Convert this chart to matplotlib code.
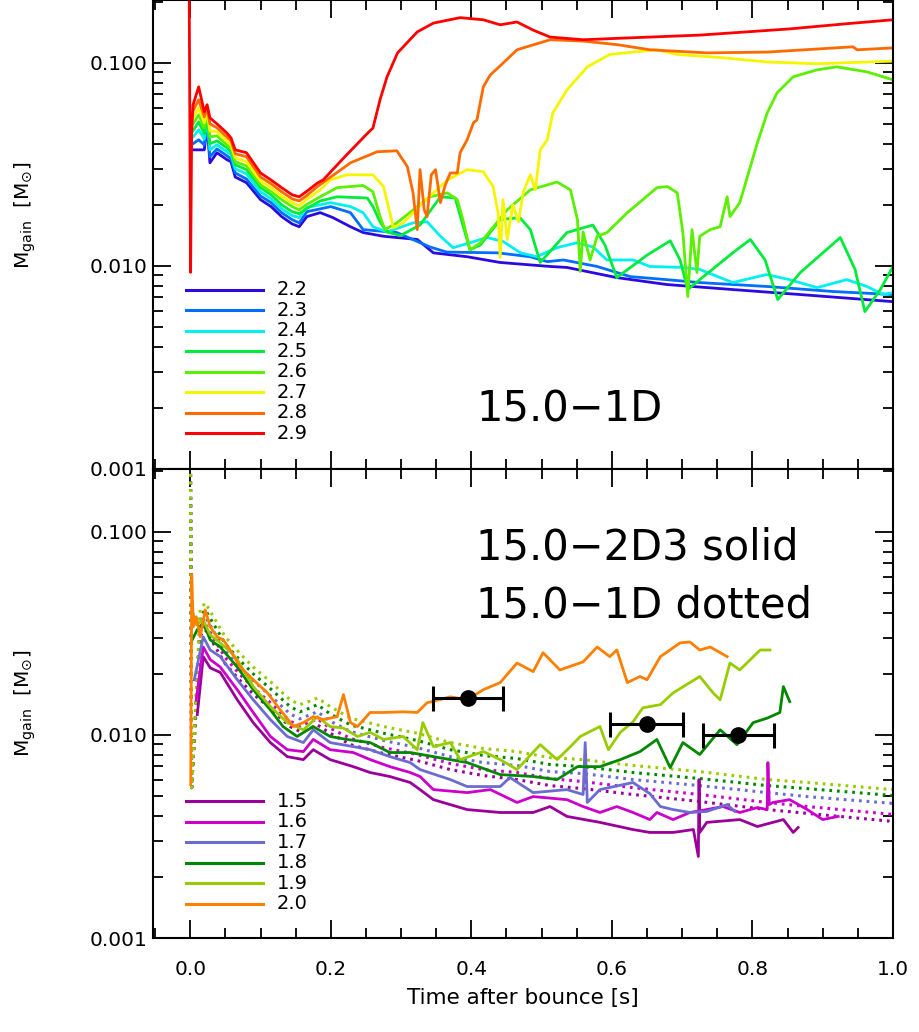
import numpy as np
import matplotlib
matplotlib.use("Agg")
import matplotlib.pyplot as plt
from matplotlib.ticker import LogLocator, MultipleLocator, FixedLocator, FixedFormatter, NullFormatter, FormatStrFormatter

# ---------------- top panel data (15.0-1D) ----------------
top_labels = ["2.2", "2.3", "2.4", "2.5", "2.6", "2.7", "2.8", "2.9"]
top_colors = ["#2a0ae0", "#006eff", "#00f0f0", "#00eb3c", "#5af000", "#f5f500", "#ff6a00", "#ff0000"]

t_early = [0.004, 0.012, 0.02, 0.024, 0.028, 0.038, 0.052, 0.058, 0.064, 0.08, 0.1, 0.115, 0.13, 0.145, 0.155]
m22_early = [0.0373, 0.0373, 0.0373, 0.0496, 0.0322, 0.0361, 0.0334, 0.0326, 0.0274, 0.0257, 0.0212, 0.0196, 0.0175, 0.0161, 0.0156]
m23_early = [0.0400, 0.0418, 0.0395, 0.0512, 0.0345, 0.0377, 0.0349, 0.0337, 0.0287, 0.0268, 0.0221, 0.0205, 0.0183, 0.0169, 0.0163]
m24_early = [0.0432, 0.0468, 0.0422, 0.0530, 0.0373, 0.0395, 0.0365, 0.0353, 0.0301, 0.0284, 0.0232, 0.0214, 0.0191, 0.0177, 0.0173]
m25_early = [0.0463, 0.0512, 0.0447, 0.0548, 0.0400, 0.0413, 0.0382, 0.0365, 0.0315, 0.0298, 0.0243, 0.0224, 0.0200, 0.0185, 0.0181]
m26_early = [0.0501, 0.0555, 0.0479, 0.0561, 0.0432, 0.0437, 0.0395, 0.0382, 0.0326, 0.0311, 0.0251, 0.0232, 0.0212, 0.0196, 0.0189]
m27_early = [0.0536, 0.0601, 0.0507, 0.0581, 0.0463, 0.0458, 0.0413, 0.0395, 0.0341, 0.0326, 0.0262, 0.0243, 0.0221, 0.0205, 0.0198]
m28_early = [0.0581, 0.0658, 0.0542, 0.0601, 0.0501, 0.0479, 0.0432, 0.0413, 0.0357, 0.0345, 0.0274, 0.0254, 0.0232, 0.0214, 0.0209]
m29_early = [0.0622, 0.0762, 0.0574, 0.0622, 0.0536, 0.0501, 0.0452, 0.0427, 0.0373, 0.0361, 0.0287, 0.0265, 0.0243, 0.0224, 0.0219]

t29_spike = [-0.002, 0.0005, 0.002]
m29_spike = [0.5, 0.0093, 0.045]

t22 = [0.166, 0.185, 0.203, 0.228, 0.246, 0.275, 0.323, 0.346, 0.394, 0.441, 0.512, 0.536, 0.607, 0.678, 0.772, 0.868, 1.0]
m22 = [0.0175, 0.0183, 0.0173, 0.0156, 0.0146, 0.0140, 0.0135, 0.0116, 0.0111, 0.0104, 0.00994, 0.00983, 0.00876, 0.00810, 0.00765, 0.00723, 0.00667]

t23 = [0.166, 0.2, 0.228, 0.246, 0.294, 0.341, 0.365, 0.437, 0.484, 0.508, 0.531, 0.579, 0.626, 0.678, 0.725, 0.821, 0.915, 1.0]
m23 = [0.0185, 0.0196, 0.0183, 0.0151, 0.0146, 0.0124, 0.0117, 0.0116, 0.0111, 0.0105, 0.0107, 0.00994, 0.00886, 0.00856, 0.00828, 0.00792, 0.00748, 0.00723]

t24 = [0.166, 0.2, 0.228, 0.246, 0.26, 0.280, 0.317, 0.337, 0.356, 0.374, 0.398, 0.422, 0.445, 0.47, 0.493, 0.522, 0.55, 0.573, 0.593, 0.63,
       0.654, 0.701, 0.725, 0.772, 0.82, 0.853, 0.892, 0.934, 0.963, 0.986, 1.0]
m24 = [0.0194, 0.0205, 0.0196, 0.0183, 0.0156, 0.0147, 0.0163, 0.0165, 0.0140, 0.0123, 0.0130, 0.0138, 0.0132, 0.0116, 0.0111, 0.0123, 0.0130, 0.0124, 0.0107, 0.0107,
       0.00994, 0.00983, 0.00961, 0.00828, 0.00907, 0.00856, 0.00782, 0.00856, 0.00792, 0.00723, 0.00739]

t25 = [0.165, 0.185, 0.209, 0.252, 0.260, 0.270, 0.280, 0.299, 0.327, 0.356, 0.377, 0.388, 0.398, 0.413, 0.441, 0.469, 0.484, 0.498, 0.536, 0.573,
       0.590, 0.607, 0.650, 0.683, 0.697, 0.708, 0.725, 0.772, 0.797, 0.818, 0.836, 0.868, 0.925, 0.946, 0.960, 0.982, 1.0]
m25 = [0.0191, 0.0209, 0.0219, 0.0216, 0.0196, 0.0165, 0.0147, 0.0141, 0.0159, 0.0219, 0.0216, 0.0159, 0.0120, 0.0127, 0.0169, 0.0173, 0.0151, 0.0104, 0.0146, 0.0159,
       0.0127, 0.00876, 0.0113, 0.0133, 0.0107, 0.00765, 0.00856, 0.0116, 0.0135, 0.0107, 0.00683, 0.00927, 0.0138, 0.00961, 0.00596, 0.00765, 0.00994]

t26 = [0.165, 0.185, 0.209, 0.246, 0.260, 0.270, 0.277, 0.294, 0.341, 0.366, 0.380, 0.388, 0.398, 0.413, 0.451, 0.484, 0.522, 0.541, 0.551, 0.555,
       0.559, 0.569, 0.579, 0.593, 0.622, 0.644, 0.664, 0.679, 0.693, 0.701, 0.708, 0.714, 0.721, 0.725, 0.740, 0.754, 0.764, 0.768, 0.782, 0.797,
       0.807, 0.821, 0.835, 0.858, 0.892, 0.920, 0.963, 1.0]
m26 = [0.0200, 0.0219, 0.0243, 0.0249, 0.0232, 0.0175, 0.0151, 0.0163, 0.0219, 0.0229, 0.0212, 0.0169, 0.0120, 0.0130, 0.0189, 0.0237, 0.0259, 0.0237, 0.0169, 0.00939,
       0.0147, 0.0107, 0.0140, 0.0146, 0.0183, 0.0212, 0.0243, 0.0246, 0.0229, 0.0146, 0.00707, 0.0151, 0.00927, 0.0140, 0.0151, 0.0156, 0.0219, 0.0175, 0.0205, 0.0308,
       0.0404, 0.0567, 0.0712, 0.0854, 0.0924, 0.0956, 0.0903, 0.0825]

t27 = [0.165, 0.185, 0.199, 0.223, 0.260, 0.275, 0.284, 0.289, 0.303, 0.331, 0.366, 0.394, 0.417, 0.431, 0.438, 0.441, 0.445, 0.451, 0.459, 0.467,
       0.474, 0.484, 0.491, 0.498, 0.508, 0.516, 0.536, 0.565, 0.597, 0.630, 0.664, 0.693, 0.725, 0.758, 0.821, 0.892, 1.0]
m27 = [0.0212, 0.0237, 0.0265, 0.0281, 0.0281, 0.0246, 0.0183, 0.0154, 0.0163, 0.0205, 0.0265, 0.0298, 0.0291, 0.0246, 0.0183, 0.0110, 0.0212, 0.0135, 0.0200, 0.0165,
       0.0232, 0.0281, 0.0237, 0.0373, 0.0418, 0.0567, 0.0736, 0.0956, 0.110, 0.113, 0.116, 0.110, 0.108, 0.106, 0.101, 0.099, 0.102]

t28 = [0.165, 0.181, 0.228, 0.266, 0.294, 0.309, 0.317, 0.323, 0.327, 0.333, 0.337, 0.343, 0.349, 0.356, 0.363, 0.370, 0.380, 0.384, 0.394, 0.403,
       0.408, 0.417, 0.427, 0.441, 0.465, 0.512, 0.559, 0.607, 0.654, 0.735, 0.821, 0.943, 0.949, 1.0]
m28 = [0.0221, 0.0246, 0.0322, 0.0365, 0.0369, 0.0308, 0.0229, 0.0151, 0.0298, 0.0189, 0.0175, 0.0281, 0.0298, 0.0205, 0.0251, 0.0287, 0.0287, 0.0361, 0.0418, 0.0507,
       0.0524, 0.0762, 0.0873, 0.0967, 0.116, 0.130, 0.128, 0.123, 0.116, 0.112, 0.113, 0.120, 0.116, 0.1185]

t29 = [0.165, 0.181, 0.189, 0.2, 0.22, 0.25, 0.26, 0.27, 0.28, 0.295, 0.323, 0.346, 0.384, 0.417, 0.441, 0.465, 0.488, 0.512, 0.559, 0.63,
       0.725, 0.853, 0.935, 1.0]
m29 = [0.0232, 0.0256, 0.0265, 0.0291, 0.0345, 0.0442, 0.0478, 0.0657, 0.0853, 0.112, 0.142, 0.157, 0.167, 0.163, 0.154, 0.159, 0.145, 0.134, 0.130, 0.133,
       0.137, 0.147, 0.156, 0.163]

# ---------------- bottom panel data (15.0-2D3 solid, 15.0-1D dotted) ----------------
bot_labels = ["1.5", "1.6", "1.7", "1.8", "1.9", "2.0"]
bot_colors = ["#990099", "#cc00cc", "#6b6bd0", "#008800", "#99cc00", "#ff7f00"]

s15_t = [0.010, 0.0185, 0.0284, 0.0427, 0.0669, 0.0896, 0.114, 0.138, 0.161, 0.175, 0.199, 0.232, 0.256, 0.284, 0.313, 0.327, 0.346, 0.394, 0.441, 0.488,
         0.512, 0.536, 0.583, 0.630, 0.654, 0.687, 0.716, 0.723, 0.724, 0.725, 0.735, 0.782, 0.807, 0.844, 0.858, 0.865]
s15_m = [0.0126, 0.0243, 0.0214, 0.0203, 0.0149, 0.0115, 0.00917, 0.00782, 0.00756, 0.00846, 0.00756, 0.00698, 0.00653, 0.00624, 0.00583, 0.00538, 0.00480, 0.00429, 0.00415, 0.00415,
         0.00444, 0.00397, 0.00371, 0.00342, 0.00331, 0.00331, 0.00342, 0.00252, 0.00603, 0.00331, 0.00371, 0.00383, 0.00354, 0.00383, 0.00331, 0.00350]

s16_t = [0.0085, 0.0185, 0.0284, 0.0427, 0.0669, 0.0896, 0.114, 0.138, 0.161, 0.175, 0.199, 0.232, 0.256, 0.284, 0.313, 0.327, 0.346, 0.394, 0.427, 0.465,
         0.488, 0.536, 0.559, 0.583, 0.607, 0.630, 0.654, 0.664, 0.687, 0.711, 0.735, 0.758, 0.782, 0.807, 0.821, 0.822, 0.824, 0.829, 0.853, 0.878,
         0.900, 0.922]
s16_m = [0.0149, 0.0271, 0.0235, 0.0216, 0.0167, 0.0129, 0.00983, 0.00846, 0.00828, 0.00950, 0.00846, 0.00819, 0.00756, 0.00698, 0.00653, 0.00624, 0.00538, 0.00520, 0.00538, 0.00465,
         0.00497, 0.00480, 0.00444, 0.00415, 0.00444, 0.00415, 0.00383, 0.00415, 0.00383, 0.00415, 0.00429, 0.00444, 0.00415, 0.00439, 0.00429, 0.00731, 0.00454, 0.00465, 0.00480, 0.00429,
         0.00383, 0.00397]

s17_t = [0.0057, 0.0185, 0.0284, 0.0427, 0.0669, 0.0896, 0.114, 0.138, 0.161, 0.175, 0.199, 0.232, 0.256, 0.284, 0.313, 0.327, 0.370, 0.394, 0.441, 0.455,
         0.488, 0.536, 0.559, 0.562, 0.565, 0.583, 0.630, 0.654, 0.669, 0.687, 0.711, 0.735, 0.764, 0.775]
s17_m = [0.0187, 0.0304, 0.0262, 0.0243, 0.0187, 0.0149, 0.0119, 0.00983, 0.00917, 0.0106, 0.00917, 0.00876, 0.00846, 0.00782, 0.00731, 0.00675, 0.00603, 0.00557, 0.00557, 0.00617,
         0.00520, 0.00538, 0.00509, 0.00917, 0.00465, 0.00538, 0.00583, 0.00514, 0.00444, 0.00429, 0.00415, 0.00420, 0.00454, 0.00420]

s18_t = [0.0028, 0.010, 0.0185, 0.0284, 0.0427, 0.0669, 0.0896, 0.114, 0.132, 0.152, 0.175, 0.199, 0.223, 0.256, 0.284, 0.313, 0.346, 0.394, 0.441, 0.488,
         0.522, 0.551, 0.583, 0.612, 0.640, 0.664, 0.683, 0.701, 0.725, 0.754, 0.778, 0.801, 0.821, 0.839, 0.844, 0.853]
s18_m = [0.0294, 0.0330, 0.0357, 0.0294, 0.0271, 0.0216, 0.0167, 0.0133, 0.0110, 0.00983, 0.0110, 0.00983, 0.00950, 0.00917, 0.00819, 0.00819, 0.00782, 0.00731, 0.00638, 0.00624,
         0.00603, 0.00698, 0.00698, 0.00756, 0.00828, 0.00950, 0.00690, 0.00917, 0.00801, 0.0106, 0.00896, 0.0115, 0.0121, 0.0129, 0.0173, 0.0146]

s19_t = [0.0028, 0.0085, 0.0185, 0.0284, 0.0427, 0.0569, 0.0669, 0.0896, 0.114, 0.138, 0.161, 0.181, 0.199, 0.218, 0.238, 0.256, 0.275, 0.303, 0.323, 0.331,
         0.346, 0.370, 0.384, 0.417, 0.441, 0.465, 0.498, 0.522, 0.541, 0.555, 0.583, 0.595, 0.612, 0.630, 0.644, 0.669, 0.687, 0.725, 0.744, 0.754,
         0.768, 0.782, 0.811, 0.825]
s19_m = [0.0413, 0.0349, 0.0369, 0.0311, 0.0284, 0.0257, 0.0235, 0.0173, 0.0138, 0.0115, 0.0106, 0.0123, 0.0110, 0.0108, 0.00983, 0.0103, 0.00950, 0.00983, 0.00846, 0.0115,
         0.00876, 0.00917, 0.00756, 0.00828, 0.00756, 0.00675, 0.00896, 0.00756, 0.00876, 0.00983, 0.0110, 0.00846, 0.0103, 0.0116, 0.0136, 0.0141, 0.0161, 0.0194, 0.0161, 0.0149,
         0.0226, 0.0209, 0.0262, 0.0262]

s20_t = [0.0007, 0.0021, 0.0043, 0.0085, 0.0142, 0.0213, 0.0284, 0.0384, 0.0469, 0.0569, 0.0711, 0.0896, 0.110, 0.128, 0.147, 0.161, 0.175, 0.189, 0.209, 0.218,
         0.228, 0.238, 0.256, 0.275, 0.303, 0.323, 0.337, 0.370, 0.394, 0.417, 0.441, 0.465, 0.488, 0.502, 0.526, 0.559, 0.579, 0.597, 0.607, 0.622,
         0.640, 0.650, 0.669, 0.697, 0.711, 0.725, 0.740, 0.764]
s20_m = [0.00570, 0.0615, 0.0341, 0.0382, 0.0304, 0.0413, 0.0341, 0.0304, 0.0294, 0.0262, 0.0216, 0.0187, 0.0161, 0.0133, 0.0110, 0.0115, 0.0123, 0.0119, 0.0123, 0.0158,
         0.0115, 0.0110, 0.0129, 0.0129, 0.0130, 0.0129, 0.0144, 0.0154, 0.0149, 0.0167, 0.0181, 0.0226, 0.0205, 0.0254, 0.0209, 0.0229, 0.0271, 0.0243, 0.0262, 0.0181,
         0.0194, 0.0187, 0.0243, 0.0284, 0.0287, 0.0262, 0.0271, 0.0243]

d_t = [0.0, 0.002, 0.0142, 0.0213, 0.0498, 0.0711, 0.0896, 0.114, 0.142, 0.156, 0.171, 0.181, 0.199, 0.228, 0.275, 0.323, 0.370, 0.417, 0.465, 0.512,
       0.559, 0.630, 0.725, 0.821, 0.878, 1.0]
d15_m = [0.5, 0.0055, 0.0308, 0.0330, 0.0224, 0.0185, 0.0159, 0.0135, 0.0110, 0.0104, 0.0108, 0.0112, 0.0102, 0.00896, 0.00810, 0.00748, 0.00675, 0.00631, 0.00603, 0.00563,
         0.00544, 0.00509, 0.00470, 0.00429, 0.00411, 0.00375]
d16_m = [0.5, 0.0055, 0.0330, 0.0353, 0.0240, 0.0198, 0.0171, 0.0144, 0.0117, 0.0111, 0.0116, 0.0120, 0.0108, 0.00961, 0.00866, 0.00801, 0.00723, 0.00675, 0.00653, 0.00610,
         0.00589, 0.00550, 0.00509, 0.00465, 0.00444, 0.00406]
d17_m = [0.5, 0.0055, 0.0353, 0.0382, 0.0259, 0.0214, 0.0185, 0.0156, 0.0127, 0.0120, 0.0126, 0.0130, 0.0117, 0.0104, 0.00939, 0.00866, 0.00782, 0.00731, 0.00707, 0.00660,
         0.00645, 0.00603, 0.00563, 0.00520, 0.00497, 0.00460]
d18_m = [0.5, 0.0055, 0.0382, 0.0413, 0.0281, 0.0232, 0.0200, 0.0169, 0.0138, 0.0130, 0.0136, 0.0141, 0.0127, 0.0112, 0.0102, 0.00939, 0.00846, 0.00792, 0.00765, 0.00715,
         0.00698, 0.00653, 0.00610, 0.00563, 0.00544, 0.00503]
d19_m = [0.5, 0.0055, 0.0413, 0.0447, 0.0304, 0.0251, 0.0216, 0.0183, 0.0149, 0.0141, 0.0147, 0.0152, 0.0138, 0.0121, 0.0110, 0.0102, 0.00917, 0.00857, 0.00828, 0.00773,
         0.00756, 0.00707, 0.00660, 0.00603, 0.00583, 0.00538]

# error-bar points (bottom panel)
eb_t = [0.395, 0.650, 0.780]
eb_m = [0.0152, 0.0113, 0.0100]
eb_lo = [0.345, 0.597, 0.729]
eb_hi = [0.445, 0.701, 0.830]

# ---------------- figure ----------------
plt.rcParams['font.family'] = ['DejaVu Sans']
fig = plt.figure(figsize=(9.2, 10.32), dpi=100)
ax1 = fig.add_axes([153/920, 1-469/1032, 740/920, 469/1032])
ax2 = fig.add_axes([153/920, 1-938/1032, 740/920, 469/1032])

lw = 2.0
top_t = [t22, t23, t24, t25, t26, t27, t28, t29]
top_m = [m22, m23, m24, m25, m26, m27, m28, m29]
top_e = [m22_early, m23_early, m24_early, m25_early, m26_early, m27_early, m28_early, m29_early]
for i in range(8):
    tt = list(t_early) + list(top_t[i])
    mm = list(top_e[i]) + list(top_m[i])
    if i == 7:
        tt = list(t29_spike) + tt
        mm = list(m29_spike) + mm
    ax1.plot(tt, mm, color=top_colors[i], lw=lw)

dot_m = [d15_m, d16_m, d17_m, d18_m, d19_m]
for i in range(5):
    ax2.plot(d_t, dot_m[i], color=bot_colors[i], lw=2.2, ls=(0, (0.9, 1.6)))
sol_t = [s15_t, s16_t, s17_t, s18_t, s19_t, s20_t]
sol_m = [s15_m, s16_m, s17_m, s18_m, s19_m, s20_m]
for i in range(6):
    ax2.plot(sol_t[i], sol_m[i], color=bot_colors[i], lw=lw)

xerr = [np.array(eb_t) - np.array(eb_lo), np.array(eb_hi) - np.array(eb_t)]
ax2.errorbar(eb_t, eb_m, xerr=xerr, fmt='o', color='black', ms=11, lw=2.2, capsize=9, capthick=2.2, zorder=10)

for ax in (ax1, ax2):
    ax.set_yscale('log')
    ax.set_xlim(-0.053, 1.0)
    ax.set_ylim(0.001, 0.204)
    ax.yaxis.set_major_locator(FixedLocator([0.001, 0.01, 0.1]))
    ax.yaxis.set_major_formatter(FixedFormatter(['0.001', '0.010', '0.100']))
    ax.yaxis.set_minor_locator(LogLocator(base=10, subs=np.arange(2, 10), numticks=20))
    ax.yaxis.set_minor_formatter(NullFormatter())
    ax.xaxis.set_major_locator(MultipleLocator(0.2))
    ax.xaxis.set_minor_locator(MultipleLocator(0.05))
    ax.tick_params(which='both', direction='in', top=True, right=True, width=1.3)
    ax.tick_params(which='major', length=13, labelsize=14.5)
    ax.tick_params(which='minor', length=7)
    ax.tick_params(axis='y', which='major', pad=4)
    for s in ax.spines.values():
        s.set_linewidth(1.5)
    ax.set_ylabel(r'M$_{\rm gain}$  [M$_{\odot}$]', fontsize=14.5)

ax1.yaxis.set_label_coords(-0.155, 0.54)
ax2.yaxis.set_label_coords(-0.155, 0.5)
ax1.tick_params(axis='x', labelbottom=False)
ax2.tick_params(axis='x', which='major', pad=16)
ax2.xaxis.set_major_formatter(FormatStrFormatter('%.1f'))
ax2.set_xlabel('Time after bounce [s]', fontsize=15.5, labelpad=6)

# manual legends
for i, (lab, col) in enumerate(zip(top_labels, top_colors)):
    y = 0.3817 - i * 0.0437
    ax1.plot([0.0446, 0.1486], [y, y], transform=ax1.transAxes, color=col, lw=2.2)
    ax1.text(0.1676, y, lab, transform=ax1.transAxes, fontsize=14, va='center', ha='left')
for i, (lab, col) in enumerate(zip(bot_labels, bot_colors)):
    y = 0.292 - i * 0.0439
    ax2.plot([0.0446, 0.1486], [y, y], transform=ax2.transAxes, color=col, lw=2.2)
    ax2.text(0.1676, y, lab, transform=ax2.transAxes, fontsize=14, va='center', ha='left')

ax1.text(0.4365, 0.126, '15.0\u22121D', transform=ax1.transAxes, fontsize=30, va='center', ha='left')
ax2.text(0.4365, 0.8316, '15.0\u22122D3 solid', transform=ax2.transAxes, fontsize=30, va='center', ha='left')
ax2.text(0.4365, 0.710, '15.0\u22121D dotted', transform=ax2.transAxes, fontsize=30, va='center', ha='left')

fig.savefig('out.png', dpi=100)
